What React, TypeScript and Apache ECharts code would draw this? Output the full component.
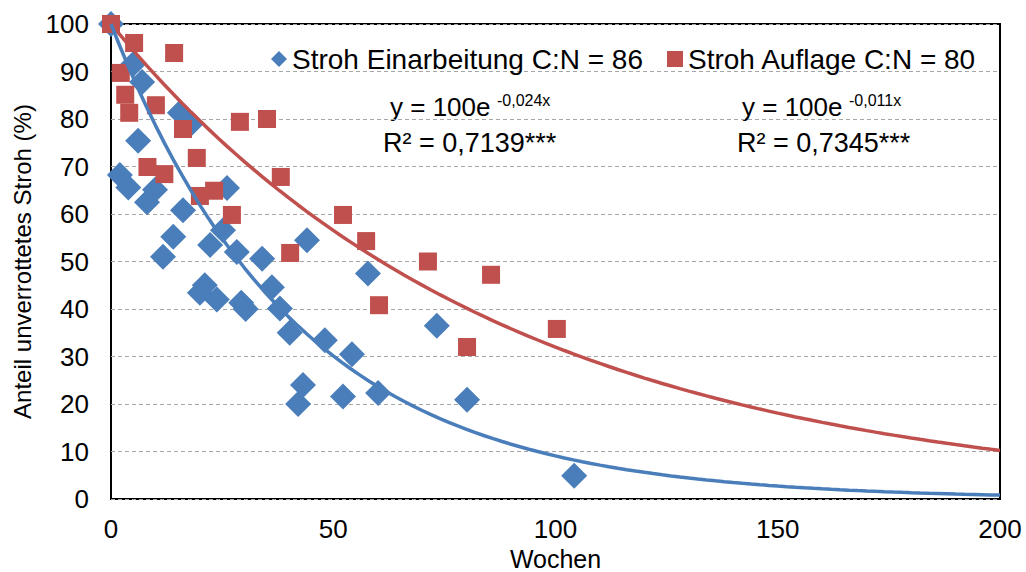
import React, { useEffect, useRef } from "react";
import * as echarts from "echarts";

// Stroh Einarbeitung C:N = 86 (weeks, % remaining)
const blueData: [number, number][] = [
  [0, 100], [2, 68.2], [3.9, 65.6], [5, 91.6], [7, 87.8], [6.1, 75.4], [8.1, 62.5],
  [9.9, 65.1], [11.7, 51], [14, 55.2], [15.5, 81.3], [18, 79], [16.2, 60.8],
  [20, 43.4], [21.1, 45], [22.3, 53.5], [23.8, 42], [25.2, 56.6], [26.1, 65.5],
  [28.3, 52], [29.3, 41.3], [30.3, 40], [34, 50.6], [36.2, 44.6], [38, 40.1],
  [40.2, 35], [44.1, 54.5], [43.2, 24], [42.1, 20], [48.1, 33.4], [52.2, 21.6],
  [54.2, 30.5], [57.8, 47.5], [60.1, 22.3], [73.3, 36.5], [80.1, 20.9], [104.2, 4.9],
];

// Stroh Auflage C:N = 80
const redData: [number, number][] = [
  [0, 100], [2.2, 89.7], [3.2, 85.1], [4.1, 81.3], [5.2, 96], [8.2, 69.9], [10.1, 82.9],
  [12, 68.4], [14.2, 93.9], [16.2, 77.9], [19.3, 71.8], [20, 63.8], [23.2, 64.9],
  [27.2, 59.8], [29, 79.4], [35.1, 80], [38.2, 67.8], [40.3, 51.8], [52.2, 59.8],
  [57.4, 54.3], [60.3, 40.8], [71.3, 50], [80.1, 32], [85.5, 47.2], [100.3, 35.8],
];

const seriesNames = ["Stroh Einarbeitung C:N = 86", "Stroh Auflage C:N = 80"];

// exponential fit y = A * e^(-k x)
const fitA = 100;
const kBlue = 0.024;
const kRed = 0.0114;
const fitX: number[] = [];
for (let x = 0; x <= 200; x += 2) fitX.push(x);

const eqBlue = { base: "y = 100e", exp: "-0,024x", r2: "R² = 0,7139***" };
const eqRed = { base: "y = 100e", exp: "-0,011x", r2: "R² = 0,7345***" };

const BLUE = "#4a7ebb";
const RED = "#c0504d";
const FONT = "Liberation Sans";

export default function App() {
  const ref = useRef<HTMLDivElement>(null);
  useEffect(() => {
    const chart = echarts.init(ref.current!, null, { renderer: "svg" });
    const trend = (k: number) => fitX.map((x) => [x, fitA * Math.exp(-k * x)]);
    const eqText = (eq: typeof eqBlue, x: number, xr: number) => [
      { type: "text", left: x, top: 94, style: { text: eq.base, font: `26px "${FONT}"`, fill: "#000" } },
      { type: "text", left: x + 107, top: 92, style: { text: eq.exp, font: `16px "${FONT}"`, fill: "#000" } },
      { type: "text", left: xr, top: 129, style: { text: eq.r2, font: `27px "${FONT}"`, fill: "#000" } },
    ];
    chart.setOption({
      animation: false,
      backgroundColor: "#fff",
      textStyle: { fontFamily: FONT },
      grid: {
        left: 111, right: 26, top: 24, bottom: 73,
        containLabel: false, outerBoundsMode: "none",
        show: true, borderColor: "#000", borderWidth: 2, backgroundColor: "transparent",
      },
      legend: {
        left: 266, top: 40, itemGap: 24, itemWidth: 16, itemHeight: 16,
        textStyle: { fontSize: 28, color: "#000", fontFamily: FONT },
        data: [
          { name: seriesNames[0], icon: "diamond", itemStyle: { color: BLUE, opacity: 1 } },
          { name: seriesNames[1], icon: "rect", itemStyle: { color: RED, opacity: 1 } },
        ],
      },
      xAxis: {
        type: "value", min: 0, max: 200, interval: 50,
        name: "Wochen", nameLocation: "middle", nameGap: 44,
        nameTextStyle: { fontSize: 25, color: "#000", fontFamily: FONT },
        axisLine: { show: false }, axisTick: { show: false },
        axisLabel: { fontSize: 26, color: "#000", margin: 17, fontFamily: FONT },
        splitLine: { show: false },
      },
      yAxis: {
        type: "value", min: 0, max: 100, interval: 10,
        name: "Anteil unverrottetes Stroh (%)", nameLocation: "middle", nameGap: 76,
        nameTextStyle: { fontSize: 24, color: "#000", fontFamily: FONT },
        axisLine: { show: false }, axisTick: { show: false },
        axisLabel: { fontSize: 26, color: "#000", margin: 22, fontFamily: FONT },
        splitLine: { show: true, lineStyle: { color: "#a6a6a6", type: [4, 3], width: 1.2 } },
      },
      series: [
        {
          name: seriesNames[0], type: "scatter", data: blueData, symbol: "diamond",
          symbolSize: 26, itemStyle: { color: BLUE, opacity: 1 }, z: 2,
        },
        {
          name: seriesNames[1], type: "scatter", data: redData, symbol: "rect",
          symbolSize: 18, itemStyle: { color: RED, opacity: 1 }, z: 3,
        },
        {
          type: "line", data: trend(kRed), showSymbol: false, smooth: false,
          lineStyle: { color: RED, width: 3.5 }, z: 4, silent: true,
        },
        {
          type: "line", data: trend(kBlue), showSymbol: false, smooth: false,
          lineStyle: { color: BLUE, width: 3.5 }, z: 5, silent: true,
        },
      ],
      graphic: [...eqText(eqBlue, 390, 383), ...eqText(eqRed, 742, 737)],
    });
    return () => chart.dispose();
  }, []);
  return <div ref={ref} style={{ position: "fixed", left: 0, top: 0, width: 1026, height: 572 }} />;
}
